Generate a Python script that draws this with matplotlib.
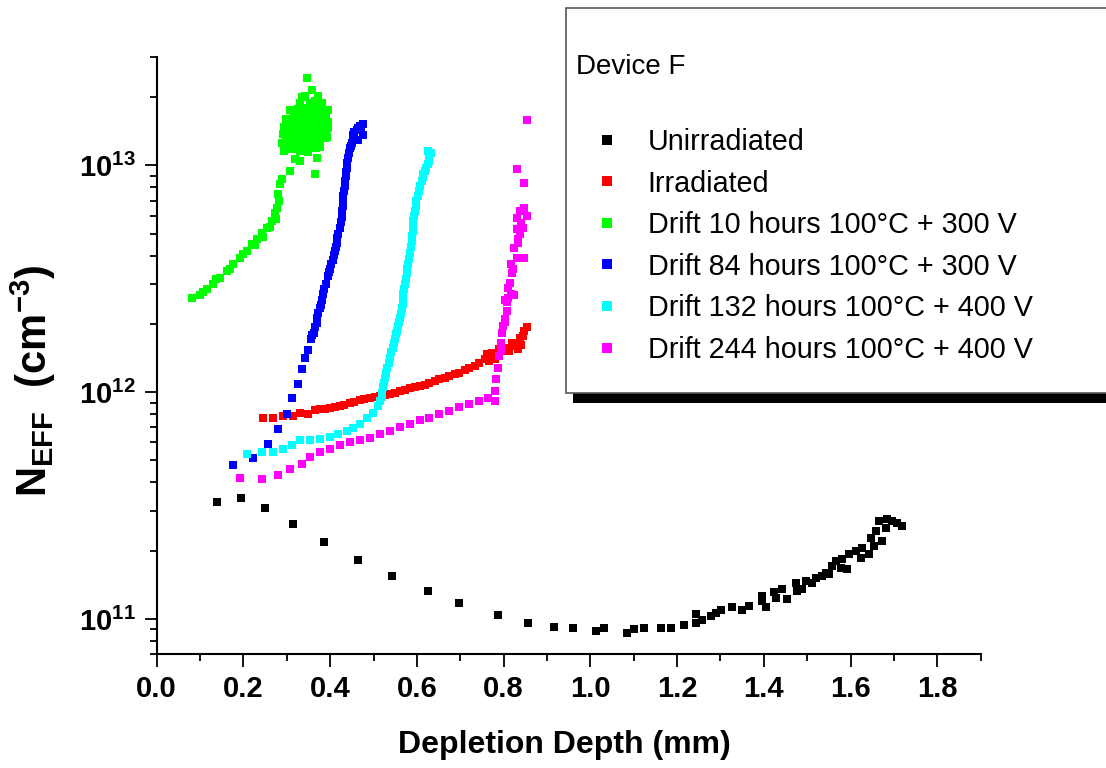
import numpy as np
import matplotlib
matplotlib.use('Agg')
import matplotlib.pyplot as plt
from matplotlib.patches import Rectangle
from matplotlib.ticker import MultipleLocator, LogLocator, NullFormatter

plt.rcParams['font.family'] = ['Liberation Sans', 'DejaVu Sans']
plt.rcParams['mathtext.fontset'] = 'custom'
plt.rcParams['mathtext.rm'] = 'Liberation Sans'
plt.rcParams['mathtext.bf'] = 'Liberation Sans:bold'
plt.rcParams['mathtext.it'] = 'Liberation Sans:italic'

# Unirradiated
unirr_x = [0.139, 0.194, 0.249, 0.314, 0.385, 0.463, 0.542, 0.625, 0.698, 0.786, 0.857, 0.917,
           0.959, 1.014, 1.032, 1.085, 1.101, 1.124, 1.163, 1.186, 1.216, 1.244, 1.244, 1.258,
           1.279, 1.290, 1.302, 1.327, 1.350, 1.366, 1.396, 1.396, 1.405, 1.424, 1.428, 1.442,
           1.454, 1.474, 1.476, 1.488, 1.497, 1.511, 1.520, 1.534, 1.543, 1.550, 1.557, 1.566,
           1.578, 1.580, 1.592, 1.596, 1.612, 1.624, 1.626, 1.642, 1.647, 1.654, 1.658, 1.665,
           1.672, 1.681, 1.684, 1.695, 1.707, 1.718]
unirr_y = [3.29e11, 3.40e11, 3.10e11, 2.63e11, 2.19e11, 1.81e11, 1.54e11, 1.33e11, 1.18e11,
           1.04e11, 0.96e11, 0.925e11, 0.916e11, 0.888e11, 0.916e11, 0.87e11, 0.906e11, 0.916e11,
           0.916e11, 0.916e11, 0.944e11, 0.96e11, 1.055e11, 0.993e11, 1.034e11, 1.066e11, 1.099e11,
           1.133e11, 1.099e11, 1.145e11, 1.205e11, 1.267e11, 1.133e11, 1.319e11, 1.241e11, 1.360e11,
           1.229e11, 1.446e11, 1.333e11, 1.360e11, 1.476e11, 1.446e11, 1.521e11, 1.552e11, 1.600e11,
           1.584e11, 1.718e11, 1.808e11, 1.684e11, 1.845e11, 1.667e11, 1.941e11, 2.0e11, 1.864e11,
           2.06e11, 1.941e11, 2.28e11, 2.10e11, 2.45e11, 2.71e11, 2.21e11, 2.53e11, 2.77e11,
           2.71e11, 2.66e11, 2.58e11]

# Irradiated
irr_x = [0.245, 0.268, 0.291, 0.314, 0.330, 0.348, 0.364, 0.376, 0.387, 0.399, 0.410, 0.422,
         0.433, 0.445, 0.456, 0.468, 0.479, 0.491, 0.503, 0.514, 0.526, 0.537, 0.549, 0.560,
         0.572, 0.583, 0.595, 0.606, 0.618, 0.629, 0.641, 0.652, 0.664, 0.675, 0.687, 0.698,
         0.710, 0.721, 0.733, 0.744, 0.756, 0.761, 0.767, 0.774, 0.779, 0.790, 0.798, 0.807,
         0.813, 0.820, 0.825, 0.832, 0.837, 0.841, 0.844, 0.848, 0.853]
irr_y = [7.73e11, 7.73e11, 7.88e11, 7.88e11, 8.13e11, 8.05e11, 8.38e11, 8.47e11, 8.47e11,
         8.55e11, 8.64e11, 8.73e11, 8.82e11, 9.0e11, 9.09e11, 9.28e11, 9.37e11, 9.47e11,
         9.57e11, 9.66e11, 9.76e11, 9.86e11, 9.96e11, 1.017e12, 1.026e12, 1.048e12, 1.059e12,
         1.069e12, 1.081e12, 1.102e12, 1.125e12, 1.148e12, 1.159e12, 1.183e12, 1.208e12,
         1.219e12, 1.259e12, 1.284e12, 1.310e12, 1.351e12, 1.406e12, 1.48e12, 1.378e12,
         1.495e12, 1.406e12, 1.556e12, 1.525e12, 1.573e12, 1.526e12, 1.655e12, 1.606e12,
         1.556e12, 1.741e12, 1.622e12, 1.778e12, 1.87e12, 1.93e12]

# Drift 10 hours
d10_x = [0.081, 0.100, 0.107, 0.116, 0.130, 0.137, 0.146, 0.162, 0.169, 0.176, 0.192, 0.199,
         0.208, 0.219, 0.226, 0.231, 0.242, 0.245, 0.254, 0.261, 0.265, 0.272, 0.275, 0.277,
         0.282, 0.279, 0.284, 0.288, 0.307, 0.365,
         0.307, 0.325, 0.344, 0.362, 0.381, 0.394, 0.298, 0.316, 0.335, 0.353, 0.371, 0.390,
         0.293, 0.311, 0.330, 0.348, 0.367, 0.385, 0.394, 0.291, 0.307, 0.325, 0.344, 0.362,
         0.381, 0.392, 0.288, 0.305, 0.323, 0.342, 0.360, 0.376, 0.293, 0.311, 0.330, 0.348,
         0.367, 0.330, 0.369, 0.318,
         0.316, 0.335, 0.353, 0.371, 0.390,
         0.302, 0.321, 0.339, 0.358, 0.376, 0.394,
         0.300, 0.318, 0.337, 0.355, 0.374, 0.390,
         0.298, 0.316, 0.335, 0.353, 0.371, 0.388,
         0.302, 0.321, 0.339, 0.358, 0.376,
         0.330, 0.353, 0.381, 0.342, 0.371,
         0.346, 0.358, 0.335, 0.365, 0.376]
d10_y = [2.59e12, 2.67e12, 2.78e12, 2.84e12, 3.01e12, 3.17e12, 3.20e12, 3.44e12, 3.51e12,
         3.69e12, 3.92e12, 4.05e12, 4.21e12, 4.52e12, 4.48e12, 4.76e12, 5.06e12, 4.86e12,
         5.32e12, 5.37e12, 5.71e12, 6.14e12, 5.83e12, 6.52e12, 7.0e12, 7.52e12, 8.32e12,
         8.75e12, 9.50e12, 9.20e12,
         1.75e13, 1.78e13, 1.80e13, 1.82e13, 1.78e13, 1.75e13, 1.61e13, 1.64e13, 1.66e13,
         1.63e13, 1.68e13, 1.61e13, 1.48e13, 1.50e13, 1.51e13, 1.53e13, 1.48e13, 1.51e13,
         1.46e13, 1.37e13, 1.38e13, 1.37e13, 1.40e13, 1.36e13, 1.38e13, 1.33e13, 1.26e13,
         1.28e13, 1.25e13, 1.28e13, 1.25e13, 1.26e13, 1.16e13, 1.18e13, 1.16e13, 1.15e13,
         1.19e13, 1.05e13, 1.08e13, 1.07e13,
         1.71e13, 1.71e13, 1.71e13, 1.71e13, 1.71e13,
         1.56e13, 1.56e13, 1.56e13, 1.56e13, 1.56e13, 1.56e13,
         1.43e13, 1.43e13, 1.43e13, 1.43e13, 1.43e13, 1.43e13,
         1.32e13, 1.32e13, 1.32e13, 1.32e13, 1.32e13, 1.32e13,
         1.21e13, 1.21e13, 1.21e13, 1.21e13, 1.21e13,
         1.89e13, 1.89e13, 1.89e13, 2.03e13, 2.03e13,
         2.44e13, 2.16e13, 2.0e13, 1.93e13, 1.88e13]

# Drift 84 hours
d84_x = [0.176, 0.222, 0.256, 0.279, 0.300, 0.312, 0.325, 0.335, 0.342, 0.348, 0.355, 0.362,
         0.369, 0.369, 0.376, 0.381, 0.383, 0.390, 0.394, 0.399, 0.406, 0.411, 0.415, 0.418,
         0.422, 0.427, 0.429, 0.429, 0.434, 0.436, 0.438, 0.440, 0.445, 0.450, 0.452, 0.461,
         0.468, 0.475, 0.475, 0.463,
         0.359, 0.365, 0.373, 0.378, 0.386, 0.397, 0.402, 0.408, 0.413, 0.416, 0.424, 0.428,
         0.429, 0.431, 0.435, 0.437, 0.439, 0.443, 0.447, 0.456, 0.463, 0.470, 0.456]
d84_y = [4.75e11, 5.15e11, 5.93e11, 6.91e11, 8.05e11, 9.47e11, 1.09e12, 1.27e12, 1.42e12,
         1.53e12, 1.71e12, 1.83e12, 2.01e12, 2.13e12, 2.34e12, 2.54e12, 2.72e12, 3.01e12,
         3.27e12, 3.51e12, 3.81e12, 4.21e12, 4.57e12, 5.01e12, 5.32e12, 5.95e12, 6.65e12,
         7.36e12, 8.15e12, 9.02e12, 9.79e12, 1.08e13, 1.19e13, 1.26e13, 1.36e13, 1.43e13,
         1.50e13, 1.53e13, 1.36e13, 1.29e13,
         1.78e12, 1.93e12, 2.24e12, 2.43e12, 2.86e12, 3.40e12, 3.66e12, 4.01e12, 4.39e12,
         4.81e12, 5.66e12, 6.32e12, 7.0e12, 7.75e12, 8.58e12, 9.40e12, 1.03e13, 1.14e13,
         1.22e13, 1.40e13, 1.46e13, 1.47e13, 1.32e13]

# Drift 132 hours
d132_x = [0.208, 0.242, 0.268, 0.291, 0.312, 0.330, 0.353, 0.376, 0.399, 0.418, 0.438, 0.452,
          0.468, 0.484, 0.498, 0.510, 0.519, 0.521, 0.526, 0.532, 0.537, 0.544, 0.549, 0.553,
          0.558, 0.563, 0.567, 0.569, 0.572, 0.576, 0.579, 0.583, 0.588, 0.590, 0.592, 0.595,
          0.599, 0.604, 0.611, 0.615, 0.622, 0.627, 0.632, 0.625,
          0.514, 0.520, 0.523, 0.529, 0.535, 0.541, 0.546, 0.551, 0.556, 0.560, 0.565, 0.568,
          0.571, 0.574, 0.578, 0.581, 0.586, 0.589, 0.591, 0.594, 0.597, 0.602, 0.607, 0.613,
          0.619, 0.625, 0.629]
d132_y = [5.36e11, 5.42e11, 5.47e11, 5.64e11, 5.87e11, 6.18e11, 6.18e11, 6.24e11, 6.37e11,
          6.57e11, 6.77e11, 6.98e11, 7.27e11, 7.73e11, 8.13e11, 8.73e11, 9.57e11, 1.05e12,
          1.16e12, 1.28e12, 1.42e12, 1.56e12, 1.72e12, 1.87e12, 2.03e12, 2.22e12, 2.46e12,
          2.72e12, 3.01e12, 3.34e12, 3.69e12, 4.09e12, 4.66e12, 5.16e12, 5.71e12, 6.32e12,
          7.0e12, 7.75e12, 8.57e12, 9.21e12, 9.79e12, 1.05e13, 1.13e13, 1.16e13,
          9.18e11, 9.96e11, 1.10e12, 1.22e12, 1.35e12, 1.50e12, 1.64e12, 1.80e12, 1.95e12,
          2.13e12, 2.34e12, 2.59e12, 2.86e12, 3.17e12, 3.51e12, 3.88e12, 4.39e12, 4.91e12,
          5.43e12, 6.01e12, 6.65e12, 7.36e12, 8.15e12, 8.93e12, 9.50e12, 1.02e13, 1.09e13]

# Drift 244 hours
d244_x = [0.192, 0.242, 0.279, 0.307, 0.335, 0.353, 0.376, 0.399, 0.422, 0.445, 0.468, 0.491,
          0.514, 0.537, 0.560, 0.583, 0.606, 0.629, 0.652, 0.675, 0.698, 0.721, 0.744, 0.763,
          0.779, 0.779, 0.783, 0.786, 0.790, 0.795, 0.797, 0.802, 0.807, 0.802, 0.807, 0.804,
          0.809, 0.818, 0.825, 0.814, 0.820, 0.818, 0.830, 0.848, 0.825, 0.832, 0.837, 0.830,
          0.844, 0.830, 0.837, 0.848, 0.853, 0.848, 0.830, 0.853,
          0.793, 0.799, 0.811, 0.822, 0.834, 0.839]
d244_y = [4.20e11, 4.16e11, 4.33e11, 4.60e11, 4.84e11, 5.20e11, 5.42e11, 5.64e11, 5.87e11,
          6.0e11, 6.18e11, 6.31e11, 6.57e11, 6.77e11, 7.05e11, 7.27e11, 7.57e11, 7.73e11,
          8.05e11, 8.30e11, 8.63e11, 8.91e11, 9.18e11, 9.47e11, 9.18e11, 1.017e12, 1.148e12,
          1.284e12, 1.45e12, 1.64e12, 1.83e12, 2.11e12, 2.49e12, 2.03e12, 2.29e12, 2.54e12,
          2.61e12, 2.72e12, 2.67e12, 3.04e12, 3.34e12, 3.69e12, 3.92e12, 3.92e12, 4.34e12,
          4.57e12, 5.01e12, 5.27e12, 5.32e12, 5.89e12, 6.32e12, 6.52e12, 6.01e12, 8.41e12,
          9.69e12, 1.58e13,
          1.54e12, 1.95e12, 2.89e12, 3.51e12, 4.76e12, 5.60e12]

series = [
    (unirr_x, unirr_y, '#000000', 'Unirradiated'),
    (irr_x, irr_y, '#ff0000', 'Irradiated'),
    (d10_x, d10_y, '#00ff00', 'Drift 10 hours 100°C + 300 V'),
    (d84_x, d84_y, '#0000ff', 'Drift 84 hours 100°C + 300 V'),
    (d132_x, d132_y, '#00ffff', 'Drift 132 hours 100°C + 400 V'),
    (d244_x, d244_y, '#ff00ff', 'Drift 244 hours 100°C + 400 V'),
]

fig = plt.figure(figsize=(11.06, 7.68), dpi=100)
ax = fig.add_axes([0.1417, 0.1484, 0.745, 0.777])

handles = []
for xs, ys, col, lab in series:
    h, = ax.plot(xs, ys, ls='none', marker='s', ms=5.4, mew=0, color=col, label=lab)
    handles.append(h)

ax.set_yscale('log')
ax.set_xlim(0, 1.9)
ax.set_ylim(7e10, 3e13)

ax.spines['top'].set_visible(False)
ax.spines['right'].set_visible(False)
for s in ['left', 'bottom']:
    ax.spines[s].set_linewidth(1.5)

ax.xaxis.set_minor_locator(MultipleLocator(0.1))
ax.set_xticks(np.arange(0, 1.81, 0.2))
ax.set_xticklabels(['%.1f' % v for v in np.arange(0, 1.81, 0.2)], fontweight='bold')

ax.set_yticks([1e11, 1e12, 1e13])
ax.set_yticklabels([r'$\mathbf{10^{11}}$', r'$\mathbf{10^{12}}$', r'$\mathbf{10^{13}}$'])
ax.yaxis.set_minor_locator(LogLocator(base=10, subs=np.arange(2, 10)))
ax.yaxis.set_minor_formatter(NullFormatter())

ax.tick_params(which='major', direction='out', length=9, width=1.3, labelsize=21, pad=6)
ax.tick_params(which='minor', direction='out', length=5, width=1.3)

ax.set_xlabel('Depletion Depth (mm)', fontsize=23, fontweight='bold')
ax.xaxis.set_label_coords(0.495, -0.128)
ax.set_ylabel(r'$\mathbf{N_{EFF}\ \ (cm^{-3})}$', fontsize=30)
ax.yaxis.set_label_coords(-0.12, 0.457)

# legend box with shadow, running off the right edge
fig.patches.append(Rectangle((573 / 1106, 1 - 403 / 768), 0.6, 10 / 768,
                             transform=fig.transFigure, facecolor='black',
                             edgecolor='none', zorder=1))
fig.patches.append(Rectangle((566 / 1106, 1 - 393 / 768), 0.6, 385 / 768,
                             transform=fig.transFigure, facecolor='white',
                             edgecolor='#555555', lw=1.2, zorder=2))
fig.text(576 / 1106, 1 - 67 / 768, 'Device F', fontsize=20, va='center', zorder=3)
leg = fig.legend(handles=handles, loc='upper left', bbox_to_anchor=(593 / 1106, 1 - 128 / 768),
                 bbox_transform=fig.transFigure, frameon=False, fontsize=20.7, numpoints=1,
                 handlelength=1.0, handletextpad=0.9, borderpad=0, borderaxespad=0,
                 labelspacing=0.47, markerscale=1.35)
leg.set_zorder(4)

fig.savefig('out.png', dpi=100)
